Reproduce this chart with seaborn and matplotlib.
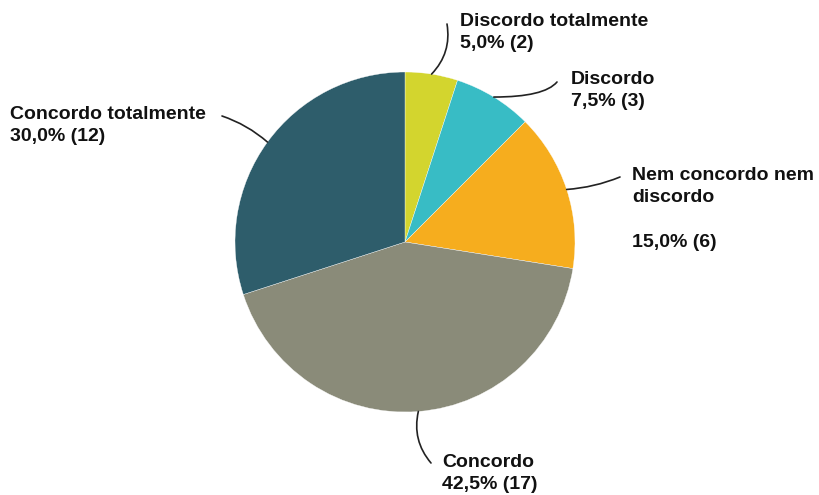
import numpy as np
import matplotlib
matplotlib.use("Agg")
import matplotlib.pyplot as plt
import seaborn as sns

# Survey answers (Likert scale)
categories = ["Discordo totalmente", "Discordo", "Nem concordo nem discordo",
              "Concordo", "Concordo totalmente"]
counts = [2, 3, 6, 17, 12]
percents = [5.0, 7.5, 15.0, 42.5, 30.0]
label_titles = ["Discordo totalmente", "Discordo", "Nem concordo nem\ndiscordo\n",
                "Concordo", "Concordo totalmente"]
colors = ["#d3d52e", "#38bcc5", "#f6ad1e", "#8a8b79", "#2e5d6b"]

sns.set_theme(style="white")
plt.rcParams["font.family"] = ["Liberation Sans Narrow", "Liberation Sans", "DejaVu Sans"]

W, H = 819, 495
fig = plt.figure(figsize=(W / 100, H / 100), dpi=100)
ax = fig.add_axes([0, 0, 1, 1])
ax.set_xlim(0, W)
ax.set_ylim(0, H)
ax.set_aspect("equal")
ax.axis("off")

cx, cy, r = 405, H - 242, 170
wedges, _ = ax.pie(counts, colors=colors, startangle=90, counterclock=False,
                   center=(cx, cy), radius=r,
                   wedgeprops=dict(edgecolor="white", linewidth=0.25))
ax.set_xlim(0, W)
ax.set_ylim(0, H)

def fmt(p, n):
    return f"{p:.1f}".replace(".", ",") + f"% ({n})"

# text anchor (left, top in pixel coords), line end, connection style
layout = [
    ((460, 13), (447, 24), "arc3,rad=-0.25"),
    ((571, 71), (557, 82), "angle3,angleA=50,angleB=0"),
    ((632, 167), (620, 177), "arc3,rad=-0.08"),
    ((442, 454), (431, 463), "arc3,rad=-0.25"),
    ((10, 106), (222, 116), "arc3,rad=-0.1"),
]

for w, title, p, n, (tpos, lend, cs) in zip(wedges, label_titles, percents, counts, layout):
    mid = np.deg2rad((w.theta1 + w.theta2) / 2)
    start = (cx + r * np.cos(mid), cy + r * np.sin(mid))
    ax.annotate("", xy=start, xytext=(lend[0], H - lend[1]),
                arrowprops=dict(arrowstyle="-", color="#222222", lw=1.2,
                                connectionstyle=cs, shrinkA=0, shrinkB=0))
    ax.text(tpos[0], H - tpos[1], f"{title}\n{fmt(p, n)}", ha="left", va="top",
            fontsize=14, fontweight="bold", color="#111111", linespacing=1.4)

fig.savefig("out.png", dpi=100, facecolor="white")
